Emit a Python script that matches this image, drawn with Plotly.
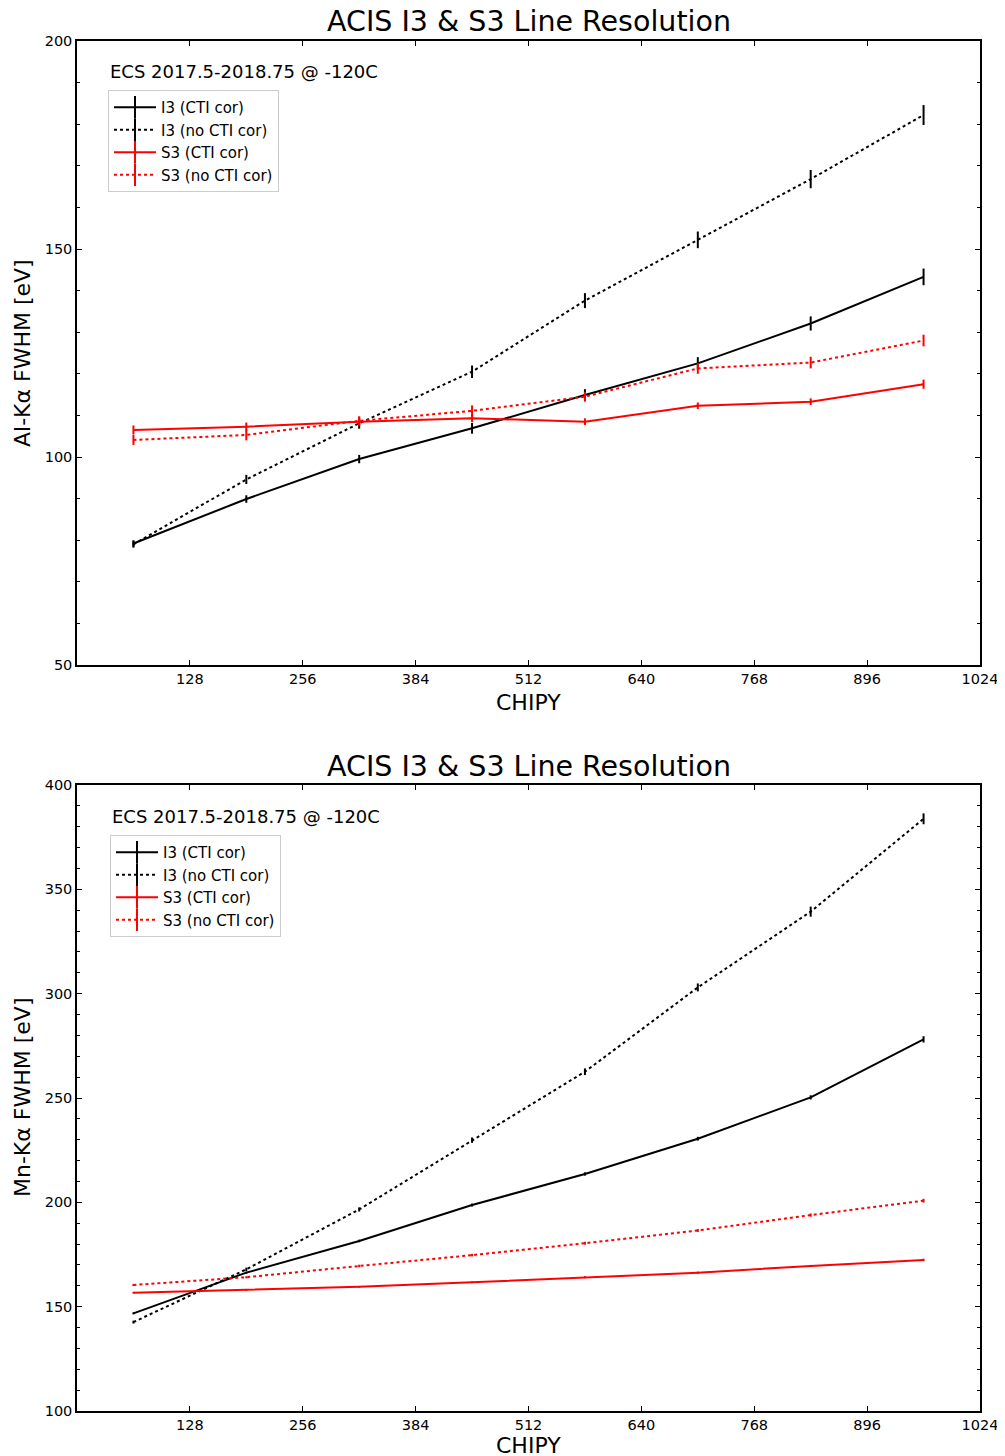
import plotly.graph_objects as go

# ---------------- data ----------------
chipy = [64, 192, 320, 448, 576, 704, 832, 960]

al_i3_cti = [79.2, 89.9, 99.5, 106.9, 114.9, 122.5, 132.1, 143.3]
al_i3_cti_err = [0.8, 0.9, 1.0, 1.3, 1.4, 1.5, 1.7, 2.0]
al_i3_nocti = [79.0, 94.6, 108.1, 120.5, 137.6, 152.2, 166.8, 182.2]
al_i3_nocti_err = [0.8, 1.1, 1.3, 1.5, 1.8, 2.0, 2.2, 2.4]
al_s3_cti = [106.5, 107.3, 108.5, 109.3, 108.5, 112.3, 113.3, 117.5]
al_s3_cti_err = [1.1, 1.0, 1.0, 0.9, 0.8, 0.8, 0.8, 1.1]
al_s3_nocti = [104.1, 105.3, 108.7, 111.1, 114.5, 121.3, 122.7, 128.0]
al_s3_nocti_err = [1.2, 1.3, 1.1, 1.3, 1.2, 1.3, 1.4, 1.4]

mn_i3_cti = [146.8, 166.3, 181.5, 198.7, 213.6, 230.5, 250.3, 278.1]
mn_i3_cti_err = [0.5, 0.5, 0.6, 0.7, 0.8, 0.9, 1.0, 1.5]
mn_i3_nocti = [142.6, 167.9, 196.6, 229.8, 262.6, 303.0, 339.3, 383.8]
mn_i3_nocti_err = [0.7, 0.8, 1.0, 1.3, 1.6, 1.9, 2.4, 2.6]
mn_s3_cti = [156.7, 158.0, 159.5, 161.7, 164.1, 166.3, 169.5, 172.4]
mn_s3_cti_err = [0.4, 0.4, 0.4, 0.4, 0.5, 0.5, 0.5, 0.6]
mn_s3_nocti = [160.4, 164.1, 169.5, 174.7, 180.4, 186.5, 193.9, 200.8]
mn_s3_nocti_err = [0.5, 0.5, 0.6, 0.6, 0.7, 0.7, 0.8, 0.9]

series_names = ["I3 (CTI cor)", "I3 (no CTI cor)", "S3 (CTI cor)", "S3 (no CTI cor)"]
series_colors = ["black", "black", "red", "red"]
series_dash = ["solid", "dot", "solid", "dot"]

x_ticks = [128, 256, 384, 512, 640, 768, 896, 1024]
title_text = "ACIS I3 & S3 Line Resolution"
period_text = "ECS 2017.5-2018.75 @ -120C"

FONT = "DejaVu Sans"
W, H = 1005, 1456
OX, OY = 8, 8  # page body offset

fig = go.Figure()

panels = [
    dict(xa="x", ya="y", legend="legend",
         vals=[al_i3_cti, al_i3_nocti, al_s3_cti, al_s3_nocti],
         errs=[al_i3_cti_err, al_i3_nocti_err, al_s3_cti_err, al_s3_nocti_err]),
    dict(xa="x2", ya="y2", legend="legend2",
         vals=[mn_i3_cti, mn_i3_nocti, mn_s3_cti, mn_s3_nocti],
         errs=[mn_i3_cti_err, mn_i3_nocti_err, mn_s3_cti_err, mn_s3_nocti_err]),
]

for p in panels:
    for name, col, dash, v, e in zip(series_names, series_colors, series_dash, p["vals"], p["errs"]):
        fig.add_trace(go.Scatter(
            x=chipy, y=v, mode="lines", xaxis=p["xa"], yaxis=p["ya"],
            line=dict(color=col, width=2, dash=dash),
            error_y=dict(type="data", array=e, visible=True, color=col, thickness=2, width=0),
            showlegend=False, hoverinfo="x+y",
        ))
    for name, col, dash in zip(series_names, series_colors, series_dash):
        fig.add_trace(go.Scatter(
            x=[None], y=[None], mode="lines+markers", xaxis=p["xa"], yaxis=p["ya"],
            name=name, legend=p["legend"],
            line=dict(color=col, width=2, dash=dash),
            marker=dict(symbol="line-ns-open", size=16, color=col, line=dict(color=col, width=2)),
        ))

def px2fx(px):
    return (px - OX) / W

def px2fy(py):
    return 1 - (py - OY) / H

xdom = [px2fx(77), px2fx(980)]
ydom1 = [px2fy(665), px2fy(41)]
ydom2 = [px2fy(1411), px2fy(785)]

axis_common = dict(
    showline=True, linecolor="black", linewidth=1.5, mirror="ticks",
    ticks="inside", ticklen=5, tickwidth=1.2, tickcolor="black",
    showgrid=False, zeroline=False, automargin=False,
    tickfont=dict(family=FONT, size=14.5, color="black"),
)

xaxis_common = dict(axis_common, range=[0, 1024], tickmode="array", tickvals=x_ticks,
                    ticktext=[str(t) for t in x_ticks])
yminor = dict(dtick=10, ticks="inside", ticklen=3, tickwidth=1, tickcolor="black", showgrid=False)

legend_common = dict(xanchor="left", yanchor="top", itemwidth=42,
                     bgcolor="rgba(255,255,255,0.8)", bordercolor="#cccccc", borderwidth=1,
                     font=dict(family=FONT, size=15, color="black"))

fig.update_layout(
    width=W, height=H, autosize=False,
    margin=dict(l=0, r=0, t=0, b=0, pad=0, autoexpand=False),
    paper_bgcolor="white", plot_bgcolor="white",
    font=dict(family=FONT, color="black"),
    xaxis=dict(xaxis_common, domain=xdom, anchor="y"),
    yaxis=dict(axis_common, domain=ydom1, anchor="x", range=[50, 200], dtick=50, minor=yminor),
    xaxis2=dict(xaxis_common, domain=xdom, anchor="y2"),
    yaxis2=dict(axis_common, domain=ydom2, anchor="x2", range=[100, 400], dtick=50, minor=yminor),
    legend=dict(legend_common, x=px2fx(108), y=px2fy(90)),
    legend2=dict(legend_common, x=px2fx(110), y=px2fy(835)),
    showlegend=True,
)

xc = (xdom[0] + xdom[1]) / 2
ann = []
for ty, xl_y, yl_y, ylab, ecs_x, ecs_y in [
    (22, 702, 353, "Al-Kα FWHM [eV]", 108, 72),
    (766, 1445, 1098, "Mn-Kα FWHM [eV]", 110, 816),
]:
    ann.append(dict(text=title_text, x=xc, y=px2fy(ty), xref="paper", yref="paper",
                    xanchor="center", yanchor="middle", showarrow=False,
                    font=dict(family=FONT, size=28.5, color="black")))
    ann.append(dict(text="CHIPY", x=xc, y=px2fy(xl_y), xref="paper", yref="paper",
                    xanchor="center", yanchor="middle", showarrow=False,
                    font=dict(family=FONT, size=22, color="black")))
    ann.append(dict(text=ylab, x=px2fx(22), y=px2fy(yl_y), xref="paper", yref="paper",
                    xanchor="center", yanchor="middle", showarrow=False, textangle=-90,
                    font=dict(family=FONT, size=22, color="black")))
    ann.append(dict(text=period_text, x=px2fx(ecs_x), y=px2fy(ecs_y), xref="paper", yref="paper",
                    xanchor="left", yanchor="middle", showarrow=False,
                    font=dict(family=FONT, size=18, color="black")))
fig.update_layout(annotations=ann)

fig.write_html("out.html")
